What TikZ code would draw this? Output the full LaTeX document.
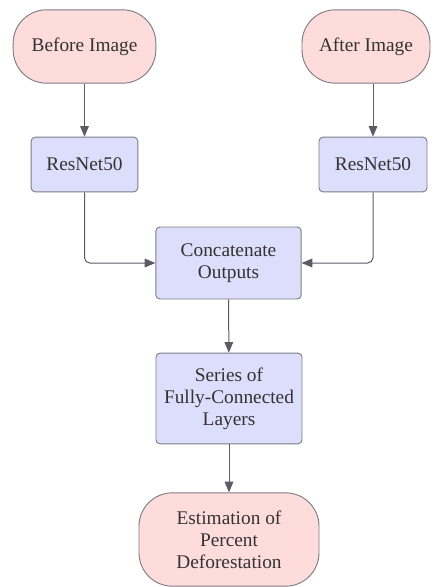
\documentclass[tikz,border=0pt]{standalone}
\usepackage{fontspec}
\setmainfont{Liberation Serif}
\usepackage{xcolor}
\usetikzlibrary{arrows.meta,positioning}
\definecolor{termfill}{HTML}{FFDCDC}
\definecolor{procfill}{HTML}{DDDDFC}
\definecolor{linecol}{HTML}{5C5C66}
\definecolor{txtcol}{HTML}{333333}

\begin{document}
\begin{tikzpicture}[x=0.75pt,y=-0.75pt,>={Triangle[length=8pt,width=6.5pt]},
  font=\fontsize{14.5}{16.5}\selectfont,text=txtcol,
  term/.style={draw=linecol!80,fill=termfill,rounded corners=25pt,line width=0.7pt,align=center,inner sep=0pt},
  proc/.style={draw=linecol!80,fill=procfill,rounded corners=3pt,line width=0.7pt,align=center,inner sep=0pt},
  flow/.style={->,draw=linecol,line width=0.75pt,rounded corners=4pt}]
  \useasboundingbox (0,0) rectangle (435,587);
  \node[term,minimum width=107pt,minimum height=55pt] (before) at (84.5,46.5) {Before Image};
  \node[term,minimum width=96pt,minimum height=55pt] (after) at (366,46.5) {After Image};
  \node[proc,minimum width=80pt,minimum height=41pt] (rn1) at (84.5,164.5) {ResNet50};
  \node[proc,minimum width=81pt,minimum height=41pt] (rn2) at (373,164.5) {ResNet50};
  \node[proc,minimum width=109pt,minimum height=54pt] (cat) at (228.5,263) {Concatenate\\Outputs};
  \node[proc,minimum width=109.5pt,minimum height=68pt] (fc) at (229,398.5) {Series of\\Fully-Connected\\Layers};
  \node[term,minimum width=135pt,minimum height=70pt] (est) at (229,539.5) {Estimation of\\Percent\\Deforestation};
  \draw[flow] (before) -- (rn1);
  \draw[flow] (after.south -| rn2) -- (rn2);
  \draw[flow] (rn1) |- (cat);
  \draw[flow] (rn2) |- (cat);
  \draw[flow] (cat) -- (fc);
  \draw[flow] (fc) -- (est);
\end{tikzpicture}
\end{document}
